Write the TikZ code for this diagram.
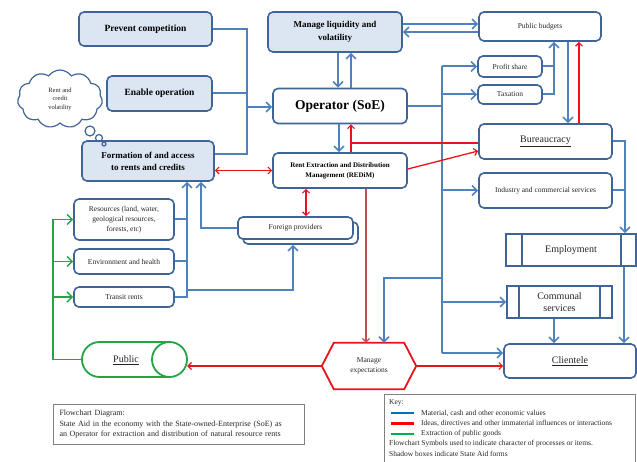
\documentclass[tikz,border=0pt]{standalone}
\usepackage{fontspec}
\setmainfont{Liberation Serif}
\usetikzlibrary{arrows.meta,shapes.symbols,shadows,calc}
\definecolor{bline}{HTML}{4F81BD}
\definecolor{bbord}{HTML}{3F6497}
\definecolor{bfill}{HTML}{DCE6F2}
\definecolor{rline}{HTML}{E8141B}
\definecolor{mred}{HTML}{C0504D}
\definecolor{gline}{HTML}{22A447}
\definecolor{txt}{HTML}{262626}
\definecolor{keyblue}{HTML}{0070C0}
\definecolor{keygreen}{HTML}{00B050}
\begin{document}
\begin{tikzpicture}[x=1pt,y=-1pt,
  sz/.style 2 args={minimum width=#1pt, minimum height=#2pt},
  box/.style={draw=bbord, line width=1.6pt, rounded corners=5pt, fill=white, align=center, inner sep=1pt, text=txt},
  hbox/.style={box, fill=bfill, font=\bfseries\fontsize{9.5}{11.5}\selectfont, text=black},
  sm/.style={font=\fontsize{7.5}{10}\selectfont},
  pbox/.style={draw=bbord, line width=1.6pt, fill=white, align=center, inner sep=1pt, text=txt, font=\fontsize{10}{13}\selectfont},
  bl/.style={draw=bline, line width=2pt},
  bla/.style={bl, -{Straight Barb[length=5pt,width=10pt,line width=1.6pt]}},
  rd/.style={draw=rline, line width=1.3pt},
  rda/.style={rd, -{Straight Barb[length=3.5pt,width=7pt,line width=1.2pt]}},
  rdaa/.style={rd, {Straight Barb[length=3.5pt,width=7pt,line width=1.2pt]}-{Straight Barb[length=3.5pt,width=7pt,line width=1.2pt]}},
  mra/.style={draw=mred, line width=1.3pt, -{Straight Barb[length=3.5pt,width=7pt,line width=1.2pt]}},
  gr/.style={draw=gline, line width=1.8pt},
  gra/.style={gr, -{Straight Barb[length=5pt,width=10pt,line width=1.5pt]}},
]
\useasboundingbox (0,0) rectangle (637,462);

% ---- left column
\node[hbox, sz={133}{34}] (pc) at (145.5,29) {Prevent competition};
\node[hbox, sz={105}{35}] (eo) at (159.5,93.5) {Enable operation};
\node[hbox, sz={132}{40}, font=\bfseries\fontsize{9}{12}\selectfont] (fa) at (148,161) {Formation of and access\\to rents and credits};
\node[cloud, cloud puffs=11, cloud puff arc=110, aspect=1.45, draw=bbord, line width=1.2pt, fill=white, sz={85}{58}, align=center, inner sep=0pt, text=txt, font=\fontsize{6.5}{8.5}\selectfont] (cl) at (60,99) {Rent and\\credit\\volatility};
\node[circle, draw=bbord, line width=1.2pt, minimum size=10pt, inner sep=0pt] (c1) at (90,131) {};
\node[circle, draw=bbord, line width=1.2pt, minimum size=7pt, inner sep=0pt] (c2) at (99,138) {};
\node[circle, draw=bbord, line width=1.2pt, minimum size=4pt, inner sep=0pt] (c3) at (104,144) {};

\node[box, sm, sz={100}{41}] (res) at (124,219.5) {Resources (land, water,\\geological resources,\\forests, etc)};
\node[box, sm, sz={100}{25}] (env) at (124,261.5) {Environment and health};
\node[box, sm, sz={100}{20}] (tr) at (124,297) {Transit rents};

% ---- middle column
\node[hbox, sz={134}{40}, font=\bfseries\fontsize{9}{12.5}\selectfont] (ml) at (335,32) {Manage liquidity and\\volatility};
\node[box, sz={134}{35}, font=\bfseries\fontsize{13.5}{15}\selectfont, text=black] (op) at (340,106) {Operator (SoE)};
\node[box, sz={134}{35}, font=\bfseries\fontsize{7}{10}\selectfont, text=black] (rdm) at (340,170.5) {Rent Extraction and Distribution\\Management (REDiM)};
\node[box, sm, sz={115}{22}, copy shadow={shadow xshift=5pt, shadow yshift=-5pt}] (fp) at (295.5,228) {Foreign providers};

% ---- right column
\node[box, sm, sz={122}{29}] (pb) at (540,26.5) {Public budgets};
\node[box, sm, sz={64}{21}] (ps) at (510,66.5) {Profit share};
\node[box, sm, sz={64}{19}] (tx) at (510,94.5) {Taxation};
\node[box, sz={133}{35}, font=\fontsize{10}{12}\selectfont] (bu) at (545.5,141.5) {\underline{Bureaucracy}};
\node[box, sm, sz={133}{35}] (ind) at (545.5,190.5) {Industry and commercial services};
\node[pbox, sz={130}{32}] (emp) at (571,250) {Employment};
\draw[draw=bbord, line width=1.6pt] ([xshift=17pt]emp.north west) -- ([xshift=17pt]emp.south west);
\draw[draw=bbord, line width=1.6pt] ([xshift=-16pt]emp.north east) -- ([xshift=-16pt]emp.south east);
\node[pbox, sz={105}{32}, font=\fontsize{10}{12}\selectfont] (com) at (559.5,302) {Communal\\services};
\draw[draw=bbord, line width=1.6pt] ([xshift=13pt]com.north west) -- ([xshift=13pt]com.south west);
\draw[draw=bbord, line width=1.6pt] ([xshift=-13pt]com.north east) -- ([xshift=-13pt]com.south east);
\node[box, sz={132}{34}, font=\fontsize{10}{12}\selectfont] (cli) at (570,361) {\underline{Clientele}};

% ---- public cylinder
\node[sz={105}{35}, inner sep=0pt] (pub) at (134.5,359.5) {};
\node[font=\fontsize{10}{12}\selectfont, text=txt] (pubt) at (126,360) {\underline{Public}};
\draw[gr] (169.5,342) -- (99.5,342) arc[start angle=270, end angle=90, radius=17.5] -- (169.5,377);
\draw[gr] (169.5,359.5) circle[radius=17.5];

% ---- hexagon
\node[sz={94}{46}, align=center, font=\fontsize{7.5}{10}\selectfont, text=txt] (me) at (369,366) {Manage\\expectations};
\draw[rline, line width=1.8pt] (me.west) -- ([xshift=12pt]me.north west) -- ([xshift=-12pt]me.north east) -- (me.east) -- ([xshift=-12pt]me.south east) -- ([xshift=12pt]me.south west) -- cycle;

% ---- coordinates
\coordinate (J) at (247,107);
\coordinate (T) at (442,0);
\coordinate (B) at (442,278);
\coordinate (B2) at (187,290);
\coordinate (G) at (53,0);
\coordinate (R) at (351,143);

% ---- blue connectors
\draw[bl] (pc.east) -| (247,154) -- ($(fa.east)+(0,-7)$);
\draw[bl] (eo.east) -- (eo.east -| J);
\draw[bla] (J) -- (J -| op.west);
\draw[bla] ([xshift=3pt]ml.south) -- ([xshift=-2pt]op.north);
\draw[bla] ([xshift=11pt]op.north) -- ([xshift=16pt]ml.south);
\draw[bla] ([yshift=8pt]ml.east) -- ([yshift=2.5pt]pb.west);
\draw[bla] ([yshift=-5.5pt]pb.west) -- (ml.east);
\draw[bl] (op.east) -- (op.east -| T);
\draw[bl] (ps.west -| T) -- ([yshift=8pt]cli.west -| T);
\draw[bla] (ps.west -| T) -- (ps.west);
\draw[bla] (tx.west -| T) -- (tx.west);
\draw[bla] (ind.west -| T) -- (ind.west);
\draw[bla] (com.west -| T) -- (com.west);
\draw[bla] ([yshift=8pt]cli.west -| T) -- ([yshift=8pt]cli.west);
\draw[bla] (B) -| ([xshift=15pt]me.north);
\draw[bla] (tx.east) -| ([xshift=14pt]pb.south);
\draw[bl] (ps.east) -- +(12,0);
\draw[bla] ([xshift=28pt]pb.south) -- ([xshift=22.5pt]bu.north);
\draw[bla] (bu.east) -| ([xshift=54pt]emp.north);
\draw[bl] (ind.east) -- +(13,0);
\draw[bla] ([xshift=53pt]emp.south) -- ([xshift=54pt]cli.north);
\draw[bla] ([xshift=-5.5pt]com.south) -- ([xshift=-16pt]cli.north);
\draw[bla] ([xshift=-1pt]op.south) -- ([xshift=-1pt]rdm.north);
\draw[bla] (fp.west) -| ([xshift=53pt]fa.south);
\draw[bla] (tr.east) -| ([xshift=39pt]fa.south);
\draw[bl] (res.east) -- +(13,0);
\draw[bl] (env.east) -- +(13,0);
\draw[bla] (B2) -| ([xshift=-2.5pt,yshift=-5pt]fp.south);

% ---- red connectors
\draw[rda] ([xshift=33.5pt]bu.north) -- ([xshift=39pt]pb.south);
\draw[rdaa] (rdm.west -| fa.east) -- (rdm.west);
\draw[rda] ([yshift=1.5pt]rdm.east) -- ([yshift=-9.5pt]bu.west);
\draw[rd] ([yshift=-1.5pt]bu.west) -- (R);
\draw[rda] ([xshift=11pt]rdm.north) -- ([xshift=11pt]op.south);
\draw[rdaa] ([xshift=-34pt]rdm.south) -- ([xshift=10.5pt]fp.north);
\draw[mra] ([xshift=26pt]rdm.south) -- ([xshift=-3pt]me.north);
\draw[rda] (me.west) -- (me.west -| pub.east);
\draw[rda] (me.east) -- (me.east -| cli.west);

% ---- green connectors
\draw[gr] (pub.west) -| (res.west -| G);
\draw[gra] (res.west -| G) -- (res.west);
\draw[gra] (env.west -| G) -- (env.west);
\draw[gra] (tr.west -| G) -- (tr.west);

% ---- caption
\node[draw=gray, line width=1pt, anchor=north west, align=left, text width=239pt, inner xsep=6pt, minimum height=40pt, text=txt, font=\fontsize{8}{10.5}\selectfont] (cap) at (53,404) {Flowchart Diagram:\\State Aid in the economy with the State-owned-Enterprise (SoE) as\\an Operator for extraction and distribution of natural resource rents};

% ---- key
\node[draw=gray, line width=1pt, anchor=north west, sz={251}{74}] (key) at (384,394) {};
\node[anchor=west, inner sep=0pt, text=txt, font=\fontsize{7.5}{9}\selectfont] (k0) at (389,403) {Key:};
\draw[keyblue, line width=2.5pt] (391,413) -- (414,413);
\node[anchor=west, inner sep=0pt, text=txt, font=\fontsize{7.5}{9}\selectfont] (k1) at (421,413) {Material, cash and other economic values};
\draw[red, line width=2.5pt] (391,423.5) -- (414,423.5);
\node[anchor=west, inner sep=0pt, text=txt, font=\fontsize{7.5}{9}\selectfont] (k2) at (421,423.5) {Ideas, directives and other immaterial influences or interactions};
\draw[keygreen, line width=2.5pt] (391,434) -- (414,434);
\node[anchor=west, inner sep=0pt, text=txt, font=\fontsize{7.5}{9}\selectfont] (k3) at (421,434) {Extraction of public goods};
\node[anchor=west, inner sep=0pt, text=txt, font=\fontsize{7.5}{9}\selectfont] (k4) at (389,444) {Flowchart Symbols used to indicate character of processes or items.};
\node[anchor=west, inner sep=0pt, text=txt, font=\fontsize{7.5}{9}\selectfont] (k5) at (389,454) {Shadow boxes indicate State Aid forms};
\end{tikzpicture}
\end{document}
